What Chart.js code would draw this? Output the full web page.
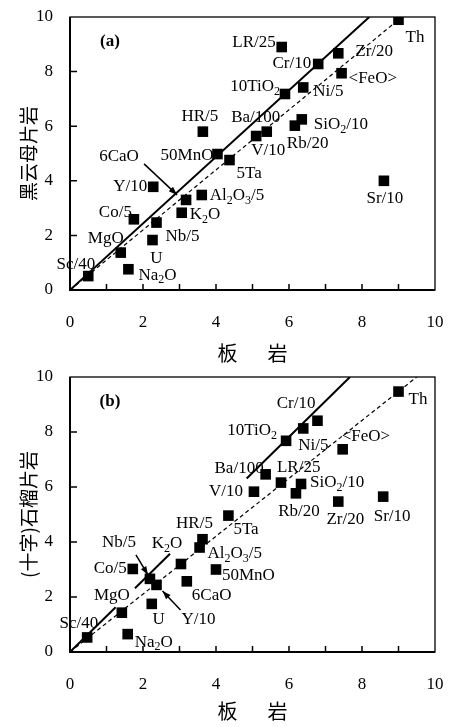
<!DOCTYPE html>
<html>
<head>
<meta charset="utf-8">
<script src="https://cdn.jsdelivr.net/npm/chart.js@4.4.0/dist/chart.umd.min.js"></script>
<style>
    html, body { margin: 0; padding: 0; background: #fff; }
    .wrap { position: absolute; left: 0; width: 457px; }
    #wrapA { top: 0; height: 365px; }
    #wrapB { top: 365px; height: 362px; }
</style>
</head>
<body>
<div class="wrap" id="wrapA"><canvas id="chartA"></canvas></div>
<div class="wrap" id="wrapB"><canvas id="chartB"></canvas></div>
<script>
// Panel (a): slate vs biotite schist
const namesA = ['Th', 'LR/25', 'Zr/20', 'Cr/10', '<FeO>', '10TiO_2', 'Ni/5', 'HR/5', 'Ba/100', 'V/10',
    'SiO_2/10', 'Rb/20', '50MnO', '5Ta', 'Sr/10', 'Y/10', 'Al_2O_3/5', '6CaO', 'K_2O', 'Co/5',
    'Nb/5', 'U', 'MgO', 'Sc/40', 'Na_2O'];
const xA = [9.0, 5.8, 7.35, 6.8, 7.44, 5.89, 6.39, 3.64, 5.39, 5.1,
    6.35, 6.16, 4.04, 4.37, 8.6, 2.28, 3.61, 3.18, 3.06, 1.75,
    2.37, 2.26, 1.39, 0.5, 1.6];
const yA = [9.9, 8.9, 8.67, 8.28, 7.94, 7.18, 7.42, 5.8, 5.8, 5.64,
    6.25, 6.02, 4.98, 4.76, 4.0, 3.78, 3.48, 3.3, 2.83, 2.59,
    2.47, 1.83, 1.37, 0.51, 0.76];
const solidA = [[0, 0], [8.2, 10]];
const dashedA = [[0, 0], [9.0, 9.9]];

// Panel (b): slate vs (staurolite) garnet schist
const namesB = ['Th', 'Cr/10', 'Ni/5', '10TiO_2', '<FeO>', 'Ba/100', 'LR/25', 'SiO_2/10', 'Rb/20', 'V/10',
    'Zr/20', 'Sr/10', '5Ta', 'HR/5', 'Al_2O_3/5', 'K_2O', 'Co/5', '50MnO', '6CaO', 'Nb/5',
    'Y/10', 'U', 'MgO', 'Sc/40', 'Na_2O'];
const xB = [9.0, 6.78, 6.39, 5.92, 7.47, 5.36, 5.78, 6.33, 6.19, 5.04,
    7.35, 8.58, 4.34, 3.63, 3.55, 3.04, 1.72, 4.0, 3.2, 2.19,
    2.37, 2.24, 1.42, 0.47, 1.58];
const yB = [9.47, 8.41, 8.13, 7.68, 7.37, 6.46, 6.16, 6.11, 5.77, 5.83,
    5.47, 5.65, 4.96, 4.1, 3.8, 3.2, 3.02, 3.0, 2.57, 2.66,
    2.44, 1.75, 1.43, 0.53, 0.65];
const solidB = [[0, 0], [1.25, 1.63], [null, null], [1.78, 2.32], [2.74, 3.57], [null, null],
    [4.84, 6.31], [7.67, 10]];
const dashedB = [[0, 0], [9.5, 10]];

const xTicks = [0, 2, 4, 6, 8, 10];
const yTicks = [0, 2, 4, 6, 8, 10];

// label placement: [dx, dy, align] in pixels from the marker
const labelPosA = [[7, 18, 'left'], [-6, -4, 'right'], [17, -2, 'left'], [-7, 0, 'right'], [7, 5, 'left'],
    [-5, -7, 'right'], [10, 4, 'left'], [-3, -15, 'center'], [-11, -14, 'center'], [-5, 15, 'left'],
    [12, 5, 'left'], [-8, 18, 'left'], [-4, 1, 'right'], [7, 13, 'left'], [1, 18, 'center'],
    [-6, 0, 'right'], [8, 1, 'left'], [-67, -43, 'center'], [8, 2, 'left'], [-2, -7, 'right'],
    [9, 14, 'left'], [4, 18, 'center'], [3, -14, 'right'], [7, -12, 'right'], [10, 6, 'left']];
const labelPosB = [[10, 8, 'left'], [-2, -17, 'right'], [-5, 17, 'left'], [-9, -10, 'right'], [-1, -13, 'left'],
    [-2, -6, 'right'], [-4, -15, 'left'], [9, -1, 'left'], [3, 18, 'center'], [-11, 0, 'right'],
    [7, 18, 'center'], [9, 20, 'center'], [5, 14, 'left'], [-8, -16, 'center'], [8, 6, 'left'],
    [-14, -20, 'center'], [-6, 0, 'right'], [6, 6, 'left'], [5, 14, 'left'], [-31, -36, 'center'],
    [42, 35, 'center'], [7, 16, 'center'], [8, -17, 'right'], [11, -14, 'right'], [7, 8, 'left']];
// arrows: [point index, start dx, start dy, tip dx, tip dy]
const arrowsA = [[17, -42, -36, -9, -5]];
const arrowsB = [[19, -14, -24, -2, -4], [20, 24, 25, 6, 6]];

const serif = '"Liberation Serif", "DejaVu Serif", serif';
const cjk = '"Noto Sans CJK SC", sans-serif';

function toPoints(xs, ys) {
    return xs.map((x, i) => ({ x: x, y: ys[i] }));
}
function linePoints(pairs) {
    return pairs.map(p => ({ x: p[0], y: p[1] }));
}

/**
 * Draw a label where "_n" means subscript n
 */
function drawRich(ctx, text, x, y, align) {
    const parts = [];
    for (let i = 0; i < text.length; i++) {
        if (text[i] === '_' && i + 1 < text.length) {
            parts.push({ t: text[i + 1], sub: true });
            i++;
        } else {
            const last = parts[parts.length - 1];
            if (last && !last.sub) last.t += text[i];
            else parts.push({ t: text[i], sub: false });
        }
    }
    const mainFont = '17px ' + serif;
    const subFont = '12px ' + serif;
    let width = 0;
    parts.forEach(p => {
        ctx.font = p.sub ? subFont : mainFont;
        p.w = ctx.measureText(p.t).width;
        width += p.w;
    });
    let cx = x;
    if (align === 'right') cx = x - width;
    if (align === 'center') cx = x - width / 2;
    ctx.textAlign = 'left';
    ctx.textBaseline = 'middle';
    parts.forEach(p => {
        ctx.font = p.sub ? subFont : mainFont;
        ctx.fillText(p.t, cx, p.sub ? y + 5 : y);
        cx += p.w;
    });
}

function drawArrow(ctx, x1, y1, x2, y2) {
    ctx.beginPath();
    ctx.moveTo(x1, y1);
    ctx.lineTo(x2, y2);
    ctx.lineWidth = 1.5;
    ctx.stroke();
    const ang = Math.atan2(y2 - y1, x2 - x1);
    const len = 9, spread = 0.35;
    ctx.beginPath();
    ctx.moveTo(x2, y2);
    ctx.lineTo(x2 - len * Math.cos(ang - spread), y2 - len * Math.sin(ang - spread));
    ctx.lineTo(x2 - len * Math.cos(ang + spread), y2 - len * Math.sin(ang + spread));
    ctx.closePath();
    ctx.fill();
}

// frame, inward ticks, panel tag
const framePlugin = {
    id: 'frame',
    beforeDatasetsDraw(chart, args, opts) {
        const { ctx, chartArea: a, scales } = chart;
        ctx.save();
        ctx.strokeStyle = '#000';
        ctx.lineWidth = 1.3;
        ctx.strokeRect(a.left, a.top, a.right - a.left, a.bottom - a.top);
        ctx.lineWidth = 2;
        ctx.beginPath();
        ctx.moveTo(a.left, a.top);
        ctx.lineTo(a.left, a.bottom);
        ctx.lineTo(a.right, a.bottom);
        ctx.stroke();
        ctx.lineWidth = 1.5;
        ctx.beginPath();
        for (let v = 1; v < 10; v++) {
            const px = scales.x.getPixelForValue(v);
            ctx.moveTo(px, a.bottom);
            ctx.lineTo(px, a.bottom - 6);
        }
        for (let v = 2; v < 10; v += 2) {
            const py = scales.y.getPixelForValue(v);
            ctx.moveTo(a.left, py);
            ctx.lineTo(a.left + 7, py);
        }
        ctx.stroke();
        ctx.fillStyle = '#000';
        ctx.font = 'bold 17px ' + serif;
        ctx.textAlign = 'center';
        ctx.textBaseline = 'middle';
        ctx.fillText(opts.tag, a.left + 40, a.top + 25);
        ctx.restore();
    }
};

// point labels and arrows
const labelPlugin = {
    id: 'pointLabels',
    afterDatasetsDraw(chart, args, opts) {
        const { ctx, scales } = chart;
        ctx.save();
        ctx.fillStyle = '#000';
        ctx.strokeStyle = '#000';
        opts.names.forEach((name, i) => {
            const px = scales.x.getPixelForValue(opts.xs[i]);
            const py = scales.y.getPixelForValue(opts.ys[i]);
            const [dx, dy, align] = opts.pos[i];
            drawRich(ctx, name, px + dx, py + dy, align);
        });
        opts.arrows.forEach(([i, sx, sy, tx, ty]) => {
            const px = scales.x.getPixelForValue(opts.xs[i]);
            const py = scales.y.getPixelForValue(opts.ys[i]);
            drawArrow(ctx, px + sx, py + sy, px + tx, py + ty);
        });
        ctx.restore();
    }
};

function makeChart(canvasId, cfg) {
    const ctx = document.getElementById(canvasId).getContext('2d');
    return new Chart(ctx, {
        type: 'scatter',
        data: {
            datasets: [
                {
                    data: toPoints(cfg.xs, cfg.ys),
                    pointStyle: 'rect',
                    pointRadius: 7.5,
                    pointHoverRadius: 7.5,
                    backgroundColor: '#000',
                    borderColor: '#000',
                    borderWidth: 0,
                    order: 0
                },
                {
                    type: 'line',
                    data: linePoints(cfg.solid),
                    borderColor: '#000',
                    borderWidth: 2,
                    pointRadius: 0,
                    spanGaps: false,
                    tension: 0,
                    order: 1
                },
                {
                    type: 'line',
                    data: linePoints(cfg.dashed),
                    borderColor: '#000',
                    borderWidth: 1.2,
                    borderDash: [4, 3],
                    pointRadius: 0,
                    tension: 0,
                    order: 2
                }
            ]
        },
        options: {
            responsive: true,
            maintainAspectRatio: false,
            animation: false,
            layout: { padding: { left: 0, right: 22, top: cfg.padTop, bottom: 0 } },
            plugins: {
                legend: { display: false },
                tooltip: { enabled: false },
                frame: { tag: cfg.tag },
                pointLabels: { names: cfg.names, xs: cfg.xs, ys: cfg.ys, pos: cfg.pos, arrows: cfg.arrows }
            },
            scales: {
                x: {
                    type: 'linear',
                    min: 0,
                    max: 10,
                    afterBuildTicks: s => { s.ticks = xTicks.map(v => ({ value: v })); },
                    afterFit: s => {
                        s.height = 75;
                        s.paddingLeft = 0;
                        s.paddingRight = 0;
                    },
                    grid: { display: false, drawTicks: false },
                    border: { display: false },
                    ticks: { padding: 22, color: '#000', font: { family: serif, size: 17 } },
                    title: {
                        display: true,
                        text: '板\u3000\u2002岩',
                        color: '#000',
                        font: { family: cjk, size: 20 },
                        padding: { top: 0, bottom: cfg.titlePad }
                    }
                },
                y: {
                    type: 'linear',
                    min: 0,
                    max: 10,
                    afterBuildTicks: s => { s.ticks = yTicks.map(v => ({ value: v })); },
                    afterFit: s => {
                        s.width = 70;
                        s.paddingTop = 0;
                        s.paddingBottom = 0;
                    },
                    grid: { display: false, drawTicks: false },
                    border: { display: false },
                    ticks: { padding: 17, color: '#000', font: { family: serif, size: 17 } },
                    title: {
                        display: true,
                        text: cfg.yTitle,
                        color: '#000',
                        font: { family: cjk, size: 19 },
                        padding: { top: 17, bottom: 0 }
                    }
                }
            }
        },
        plugins: [framePlugin, labelPlugin]
    });
}

makeChart('chartA', {
    names: namesA, xs: xA, ys: yA, pos: labelPosA, arrows: arrowsA,
    solid: solidA, dashed: dashedA, tag: '(a)', yTitle: '黑云母片岩', padTop: 17, titlePad: 0
});
makeChart('chartB', {
    names: namesB, xs: xB, ys: yB, pos: labelPosB, arrows: arrowsB,
    solid: solidB, dashed: dashedB, tag: '(b)', yTitle: '(十字)石榴片岩', padTop: 12, titlePad: 4
});
</script>
</body>
</html>
